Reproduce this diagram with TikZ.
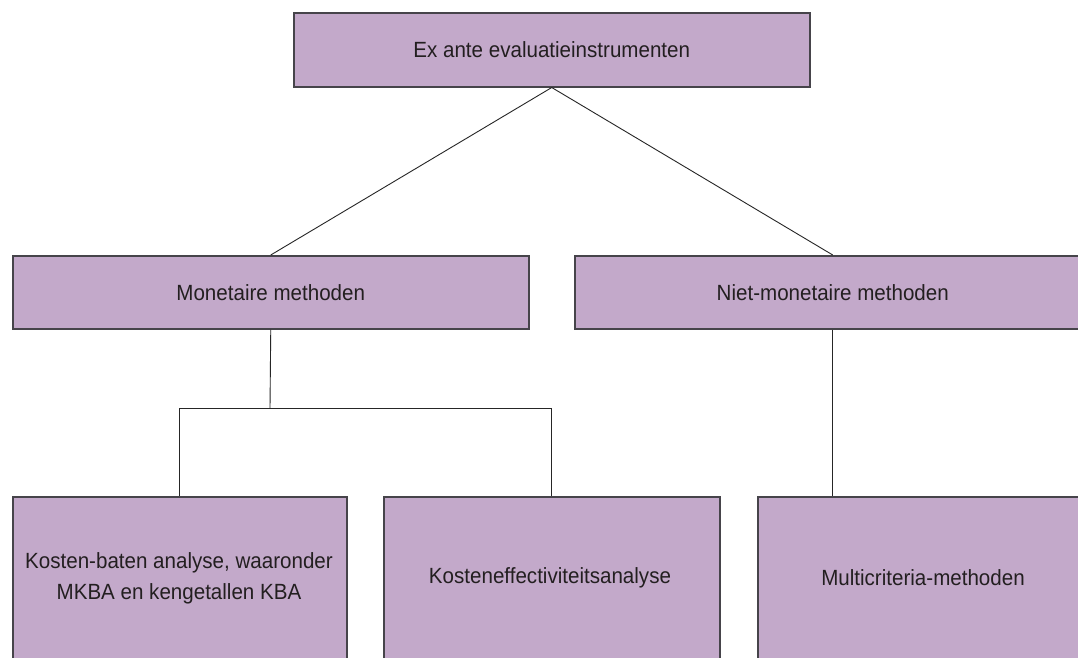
\documentclass[tikz,border=0pt]{standalone}
\usepackage{fontspec}
\setmainfont[FakeStretch=0.935]{Liberation Sans}
\definecolor{boxfill}{RGB}{195,169,202}
\definecolor{boxline}{RGB}{70,68,74}
\definecolor{txt}{RGB}{35,31,32}
\tikzset{
  box/.style={draw=boxline, line width=1.5pt, fill=boxfill, rectangle, inner sep=0pt,
    anchor=north west, font=\fontsize{22}{31}\selectfont, text=txt, align=center},
  lbl/.style={font=\fontsize{22}{31}\selectfont, text=txt, align=center},
  conn/.style={draw=black!85, line width=0.9pt}
}
\begin{document}
\begin{tikzpicture}[x=1pt,y=-1pt]
\useasboundingbox (0,0) rectangle (1078,657);
\clip (0,0) rectangle (1078,657);
\fill[white] (0,0) rectangle (1078,657);
% boxes
\node[box, minimum width=516pt, minimum height=74pt] (top) at (293,12) {Ex ante evaluatieinstrumenten};
\node[box, minimum width=516pt, minimum height=73pt] (mon) at (12,255) {Monetaire methoden};
\node[box, minimum width=516pt, minimum height=73pt] (niet) at (574,255) {Niet-monetaire methoden};
\node[box, minimum width=334pt, minimum height=180pt] (kba) at (12,496) {};
\node[box, minimum width=336pt, minimum height=180pt] (kea) at (383,496) {};
\node[box, minimum width=334pt, minimum height=180pt] (mc) at (757,496) {};
\node[lbl] (kbat) at (179,578) {Kosten-baten analyse, waaronder\\MKBA en kengetallen KBA};
\node[lbl] (keat) at (550,578) {Kosteneffectiviteitsanalyse};
\node[lbl] (mct) at (923,578) {Multicriteria-methoden};
% connectors
\coordinate (split) at (270,408);
\draw[conn] (top.south) -- (mon.north);
\draw[conn] (top.south) -- (niet.north);
\draw[conn] (mon.south) -- (split);
\draw[conn] (kba.north |- split) -- (kea.north |- split);
\draw[conn] (kba.north |- split) -- (kba.north);
\draw[conn] (kea.north |- split) -- (kea.north);
\draw[conn] (niet.south) -- (niet.south |- mc.north);
\end{tikzpicture}
\end{document}
